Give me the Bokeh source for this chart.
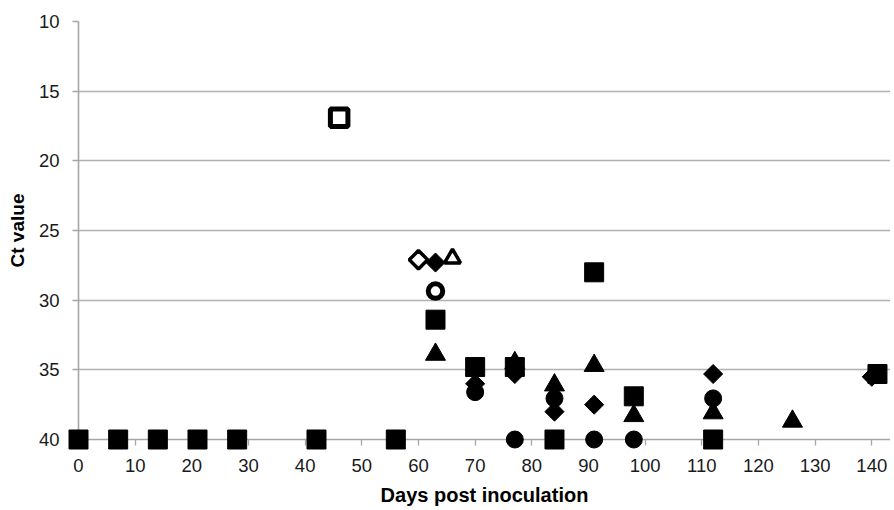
from bokeh.plotting import figure
from bokeh.models import Range1d, FixedTicker
from bokeh.embed import file_html
from bokeh.resources import INLINE
import numpy as np

# --- data (Ct values, days post inoculation) ---
sq_days = [0, 7, 14, 21, 28, 42, 56, 63, 70, 77, 84, 91, 98, 112, 141]
sq_ct = [40, 40, 40, 40, 40, 40, 40, 31.4, 34.8, 34.8, 40, 28.0, 36.9, 40, 35.3]

dia_days = [63, 70, 77, 84, 91, 112, 140]
dia_ct = [27.3, 36.0, 35.3, 38.0, 37.5, 35.3, 35.5]

tri_days = [63, 77, 84, 91, 98, 112, 126]
tri_ct = [33.9, 34.5, 36.1, 34.7, 38.3, 38.1, 38.7]

cir_days = [70, 77, 84, 91, 98, 112]
cir_ct = [36.6, 40, 37.05, 40, 40, 37.05]

open_sq_days = [46]
open_sq_ct = [16.9]
open_dia_days = [60]
open_dia_ct = [27.1]
open_tri_days = [66]
open_tri_ct = [27.0]
open_cir_days = [63]
open_cir_ct = [29.35]

x_ticks = list(range(0, 141, 10))
y_ticks = [10, 15, 20, 25, 30, 35, 40]

FONT = "Liberation Sans"

p = figure(width=890, height=508, output_backend="svg", toolbar_location=None,
           x_range=Range1d(0, 143.3), y_range=Range1d(40, 10),
           min_border_left=78, min_border_top=21, min_border_right=0,
           min_border_bottom=65)
p.outline_line_color = None
p.background_fill_color = "white"
p.border_fill_color = "white"

p.xgrid.visible = False
p.ygrid.grid_line_color = "#b0b0b0"
p.ygrid.grid_line_width = 1.3

for ax in (p.xaxis[0], p.yaxis[0]):
    ax.axis_line_color = "#a6a6a6"
    ax.axis_line_width = 1.6
    ax.major_tick_line_color = "#a6a6a6"
    ax.major_tick_line_width = 1.3
    ax.major_tick_in = 0
    ax.major_tick_out = 6
    ax.minor_tick_line_color = None
    ax.major_label_text_font = FONT
    ax.major_label_text_font_size = "18.5px"
    ax.major_label_text_color = "#1a1a1a"
    ax.axis_label_text_font = FONT
    ax.axis_label_text_font_style = "bold"
    ax.axis_label_text_color = "#000000"

p.xaxis.axis_label_text_font_size = "20px"
p.yaxis.axis_label_text_font_size = "19px"
p.xaxis.ticker = FixedTicker(ticks=x_ticks)
p.yaxis.ticker = FixedTicker(ticks=y_ticks)
p.xaxis.axis_label = "Days post inoculation"
p.yaxis.axis_label = "Ct value"
p.xaxis.major_label_standoff = 13
p.xaxis.axis_label_standoff = 9
p.yaxis.major_label_standoff = 13
p.yaxis.axis_label_standoff = 8

k = "black"
r1 = p.scatter(sq_days, sq_ct, marker="square", size=19, fill_color=k, line_color=k)
r2 = p.scatter(dia_days, dia_ct, marker="square", angle=np.pi / 4, size=13.5, fill_color=k, line_color=k)
r3 = p.scatter(tri_days, tri_ct, marker="triangle", size=20, fill_color=k, line_color=k)
r4 = p.scatter(cir_days, cir_ct, marker="circle", size=17, fill_color=k, line_color=k)
r5 = p.scatter(open_sq_days, open_sq_ct, marker="square", size=17.5, fill_color="white", line_color=k, line_width=5)
r6 = p.scatter(open_dia_days, open_dia_ct, marker="square", angle=np.pi / 4, size=13, fill_color="white", line_color=k, line_width=3.5)
r7 = p.scatter(open_tri_days, open_tri_ct, marker="triangle", size=16, fill_color="white", line_color=k, line_width=3.5)
r8 = p.scatter(open_cir_days, open_cir_ct, marker="circle", size=14.5, fill_color="white", line_color=k, line_width=5)
for r in (r1, r2, r3, r4, r5, r6, r7, r8):
    r.level = "overlay"

open("out.html", "w").write(file_html(p, INLINE))
